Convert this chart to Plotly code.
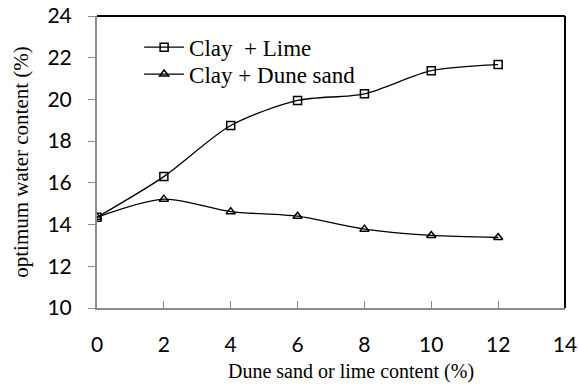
import plotly.graph_objects as go

x_vals = [0, 2, 4, 6, 8, 10, 12]
clay_lime = [14.35, 16.3, 18.75, 19.95, 20.27, 21.38, 21.67]
clay_dune = [14.35, 15.22, 14.62, 14.4, 13.78, 13.48, 13.38]
x_ticks = [0, 2, 4, 6, 8, 10, 12, 14]
y_ticks = [10, 12, 14, 16, 18, 20, 22, 24]

fig = go.Figure()
fig.add_trace(go.Scatter(
    x=x_vals, y=clay_lime, name="Clay  + Lime", mode="lines+markers",
    line=dict(color="black", width=1.3, shape="spline", smoothing=0.8),
    marker=dict(symbol="square-open", size=8, color="black", line=dict(width=1.5)),
    legend="legend",
))
fig.add_trace(go.Scatter(
    x=x_vals, y=clay_dune, name="Clay + Dune sand", mode="lines+markers",
    line=dict(color="black", width=1.3, shape="spline", smoothing=0.8),
    marker=dict(symbol="triangle-up-open", size=8, color="black", line=dict(width=1.5)),
    legend="legend2",
))

# top and right frame lines
fig.add_shape(type="line", xref="paper", yref="paper", x0=0, x1=1, y0=1, y1=1,
              line=dict(color="black", width=2))
fig.add_shape(type="line", xref="paper", yref="paper", x0=1, x1=1, y0=0, y1=1,
              line=dict(color="black", width=2))

legend_font = dict(family="Liberation Serif", size=23, color="black")
fig.add_annotation(text="Dune sand or lime content (%)", xref="paper", yref="paper",
                   x=0.543, y=-0.219, xanchor="center", yanchor="middle", showarrow=False,
                   font=dict(family="Liberation Serif", size=20, color="black"))

fig.update_layout(
    width=579, height=389,
    margin=dict(l=97, r=14, t=16, b=81),
    plot_bgcolor="white", paper_bgcolor="white",
    showlegend=True,
    legend=dict(x=0.09, y=0.893, xanchor="left", yanchor="middle",
                font=legend_font, bgcolor="rgba(0,0,0,0)", itemwidth=40),
    legend2=dict(x=0.09, y=0.801, xanchor="left", yanchor="middle",
                 font=legend_font, bgcolor="rgba(0,0,0,0)", itemwidth=40),
    xaxis=dict(
        range=[0, 14], tickvals=x_ticks, showgrid=False, zeroline=False,
        showline=True, linecolor="#8c8c8c", linewidth=2, automargin=False,
        ticks="inside", ticklen=7, tickcolor="#8c8c8c", tickwidth=1,
        ticklabelstandoff=17,
        tickfont=dict(family="Lato", size=21, color="black"),
    ),
    yaxis=dict(
        range=[10, 24], tickvals=y_ticks, showgrid=False, zeroline=False,
        showline=True, linecolor="#8c8c8c", linewidth=2, automargin=False,
        ticks="outside", ticklen=7, tickcolor="#8c8c8c", tickwidth=1,
        ticklabelstandoff=12,
        tickfont=dict(family="Lato", size=21, color="black"),
        title=dict(text="optimum water content (%)", standoff=13,
                   font=dict(family="Liberation Serif", size=21, color="black")),
    ),
)

fig.write_html("out.html")
